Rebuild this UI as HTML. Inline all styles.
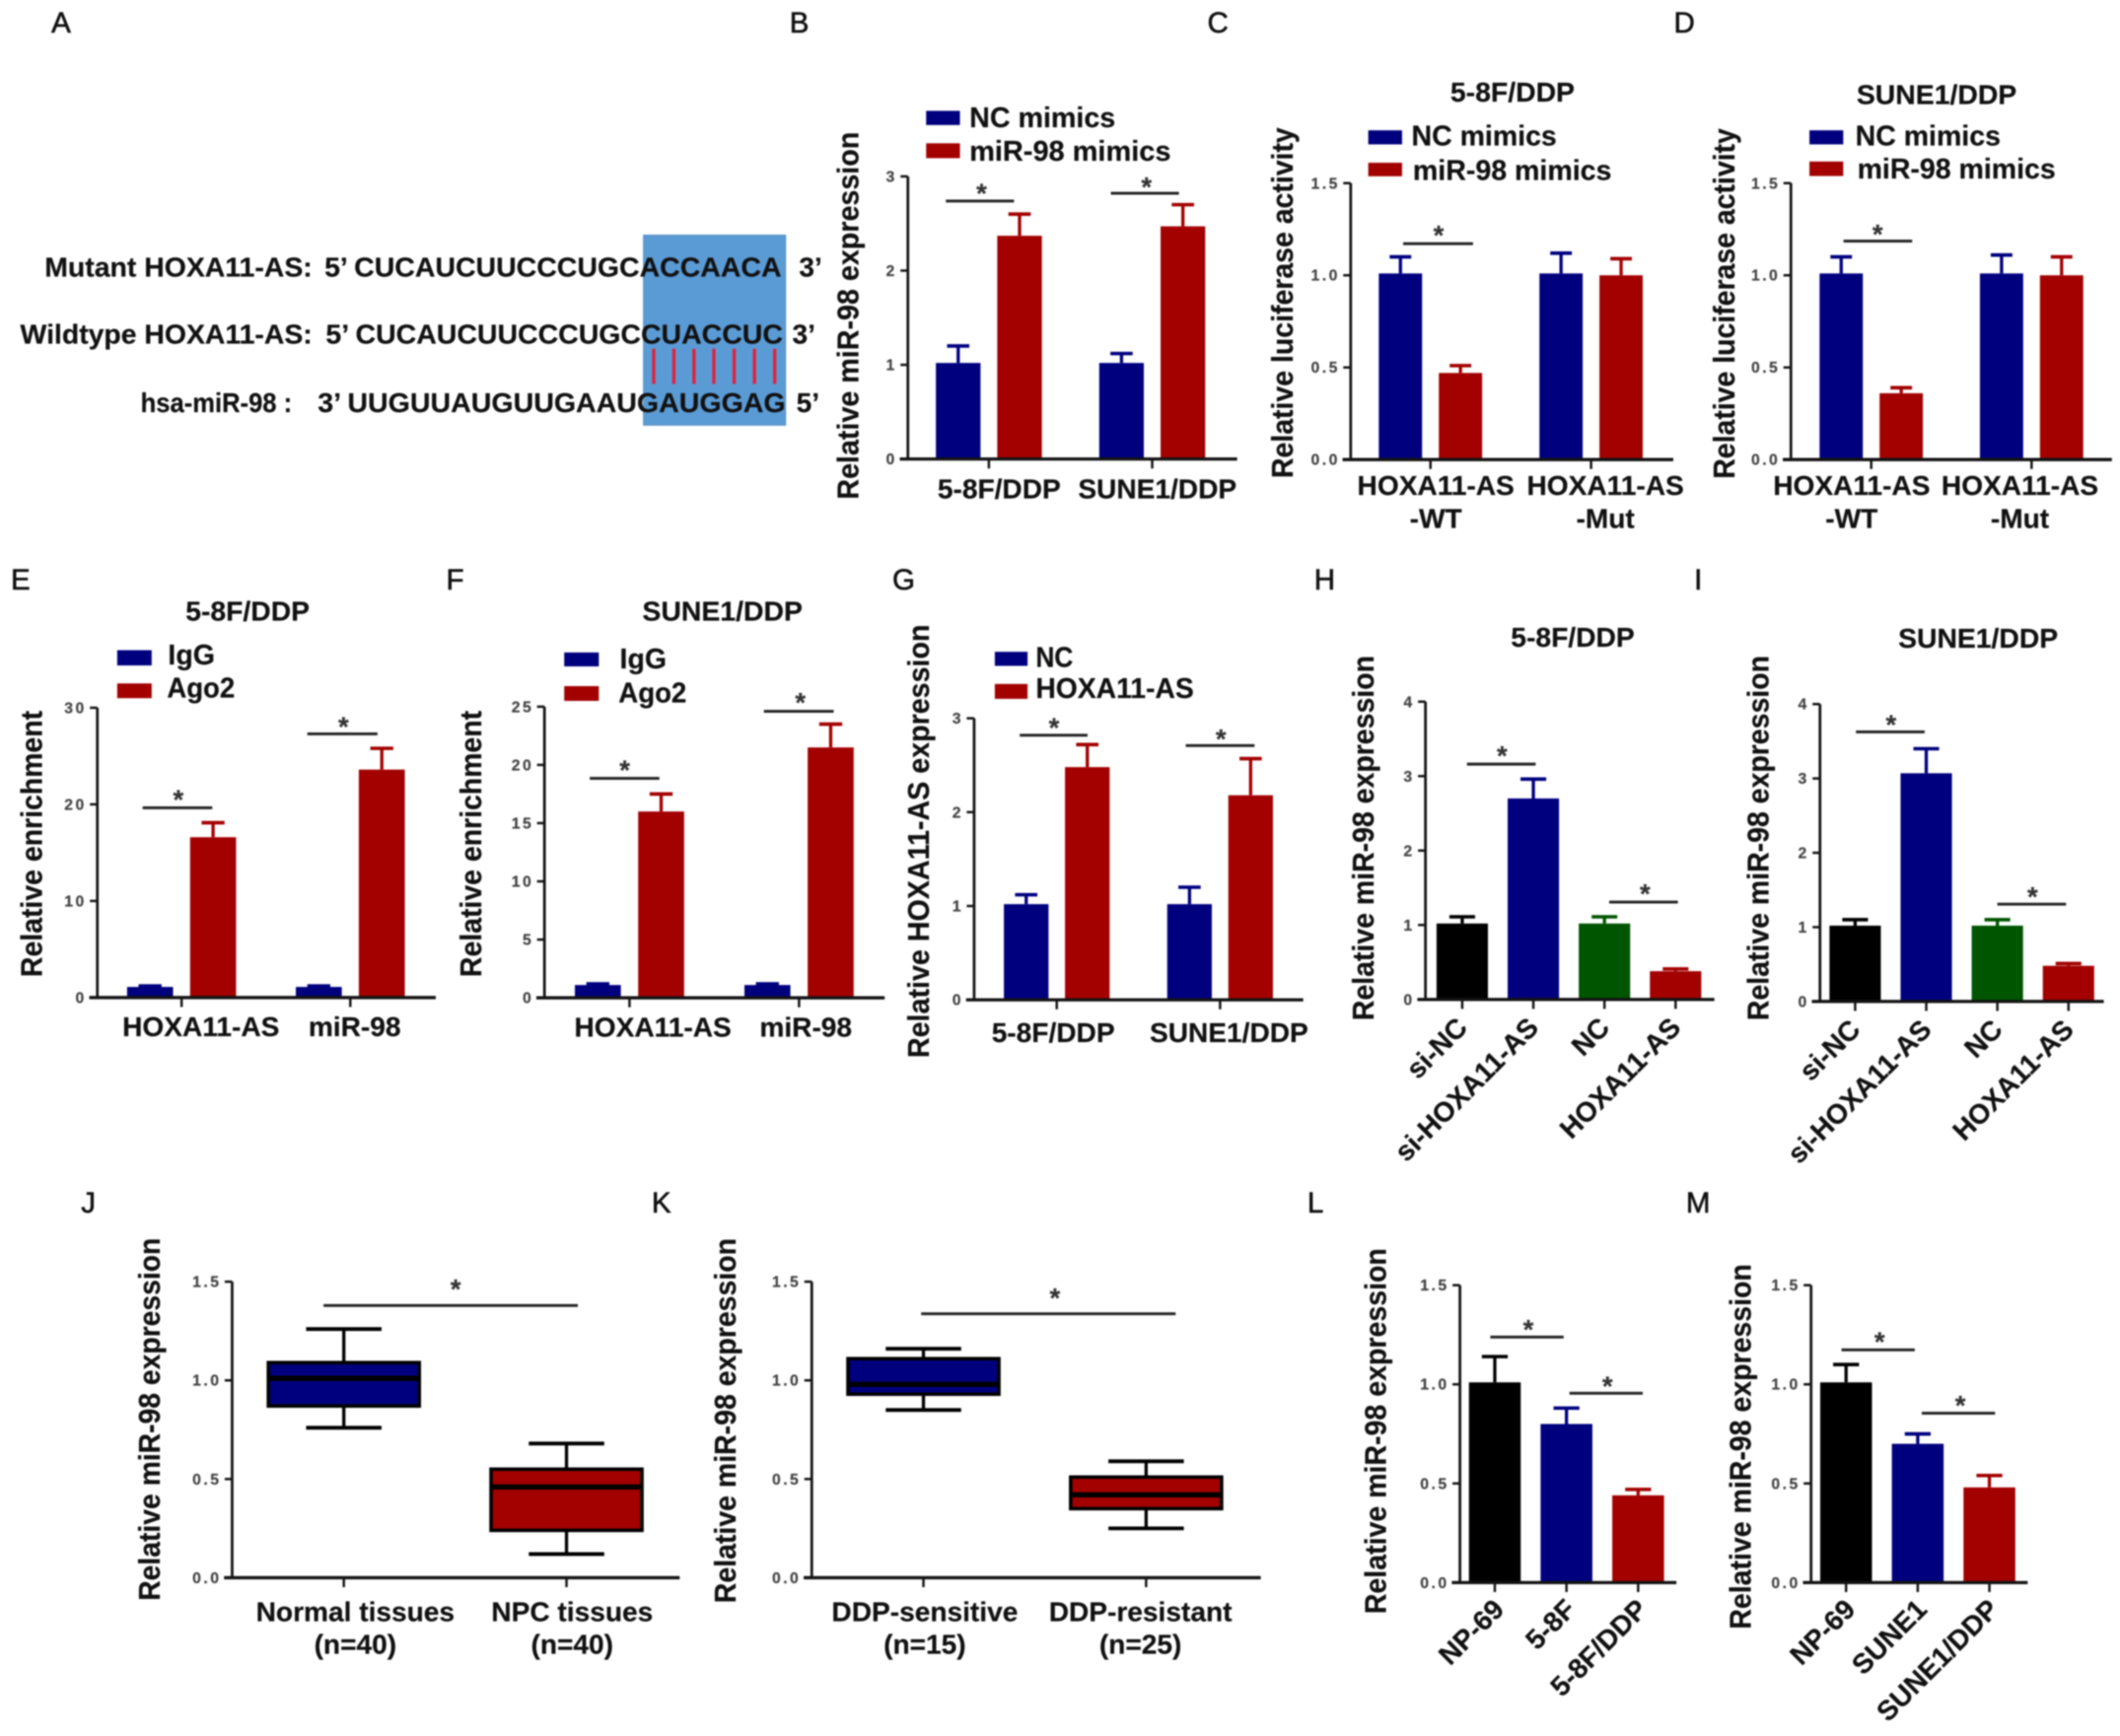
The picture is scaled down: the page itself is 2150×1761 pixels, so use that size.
<!DOCTYPE html>
<html lang="en">
<head>
<meta charset="utf-8">
<title>HOXA11-AS and miR-98 multi-panel figure</title>
<style>
html,body{margin:0;padding:0;background:#fff;}
svg{display:block;}
text{font-family:"Liberation Sans",Arial,sans-serif;font-weight:700;fill:#111;stroke:#111;stroke-width:.15;}
.letter{font-size:21.5px;font-weight:400;stroke-width:.45;}
.big{font-size:21px;}
.star{font-size:20px;fill:#333;stroke:#333;text-anchor:middle;}
.ttl{font-size:22px;text-anchor:middle;}
.sig{stroke:#222;stroke-width:2.1;}
</style>
</head>
<body>
<svg id="figure" xmlns="http://www.w3.org/2000/svg" width="2150" height="1761" viewBox="0 0 1568 1284.3" style="filter:blur(.8px)">
<rect x="0" y="0" width="1568" height="1284.3" fill="#fff"/>

<g>
<text class="letter" x="38" y="24">A</text>
<text class="letter" x="584" y="24">B</text>
<text class="letter" x="893" y="24">C</text>
<text class="letter" x="1238" y="24">D</text>
<text class="letter" x="8" y="436">E</text>
<text class="letter" x="330" y="436">F</text>
<text class="letter" x="660" y="436">G</text>
<text class="letter" x="972" y="436">H</text>
<text class="letter" x="1253" y="436">I</text>
<text class="letter" x="60" y="897">J</text>
<text class="letter" x="482" y="897">K</text>
<text class="letter" x="967" y="897">L</text>
<text class="letter" x="1247" y="897">M</text>
</g>

<g>
<rect x="476" y="174" width="105" height="140.5" fill="#5b9bd5" stroke="#5590c6" stroke-width=".8"/>
<text x="33" y="204.5" font-size="20.5" textLength="198" lengthAdjust="spacingAndGlyphs">Mutant HOXA11-AS:</text>
<text x="240" y="204.5" font-size="20.5" textLength="338" lengthAdjust="spacingAndGlyphs">5’ CUCAUCUUCCCUGCACCAACA</text>
<text x="591" y="204.5" font-size="20.5">3’</text>
<text x="15" y="254" font-size="20.5" textLength="216" lengthAdjust="spacingAndGlyphs">Wildtype HOXA11-AS:</text>
<text x="241" y="254" font-size="20.5" textLength="338" lengthAdjust="spacingAndGlyphs">5’ CUCAUCUUCCCUGCCUACCUC</text>
<text x="586" y="254" font-size="20.5">3’</text>
<text x="104" y="305" font-size="20.5" textLength="112" lengthAdjust="spacingAndGlyphs">hsa-miR-98 :</text>
<text x="235" y="305" font-size="20.5" textLength="346" lengthAdjust="spacingAndGlyphs">3’ UUGUUAUGUUGAAUGAUGGAG</text>
<text x="589" y="305" font-size="20.5">5’</text>
<g stroke="#e2203a" stroke-width="2.4">
<line x1="483.5" x2="483.5" y1="258" y2="284"/>
<line x1="498.4" x2="498.4" y1="258" y2="284"/>
<line x1="513.3" x2="513.3" y1="258" y2="284"/>
<line x1="528" x2="528" y1="258" y2="284"/>
<line x1="543" x2="543" y1="258" y2="284"/>
<line x1="558" x2="558" y1="258" y2="284"/>
<line x1="573" x2="573" y1="258" y2="284"/>
</g>
</g>

<g>
<text class="ttl" transform="translate(635,233.5) rotate(-90)" textLength="272" lengthAdjust="spacingAndGlyphs">Relative miR-98 expression</text>
<text class="ttl" transform="translate(956,224) rotate(-90)" textLength="259.5" lengthAdjust="spacingAndGlyphs">Relative luciferase activity</text>
<text class="ttl" transform="translate(1283,224.6) rotate(-90)" textLength="259.3" lengthAdjust="spacingAndGlyphs">Relative luciferase activity</text>
<text class="ttl" transform="translate(31,624.3) rotate(-90)" textLength="197" lengthAdjust="spacingAndGlyphs">Relative enrichment</text>
<text class="ttl" transform="translate(356,624.3) rotate(-90)" textLength="197" lengthAdjust="spacingAndGlyphs">Relative enrichment</text>
<text class="ttl" transform="translate(687,622.3) rotate(-90)" textLength="320.6" lengthAdjust="spacingAndGlyphs">Relative HOXA11-AS expression</text>
<text class="ttl" transform="translate(1016,620) rotate(-90)" textLength="270" lengthAdjust="spacingAndGlyphs">Relative miR-98 expression</text>
<text class="ttl" transform="translate(1308,620) rotate(-90)" textLength="270" lengthAdjust="spacingAndGlyphs">Relative miR-98 expression</text>
<text class="ttl" transform="translate(118,1050) rotate(-90)" textLength="268.5" lengthAdjust="spacingAndGlyphs">Relative miR-98 expression</text>
<text class="ttl" transform="translate(544,1051) rotate(-90)" textLength="270" lengthAdjust="spacingAndGlyphs">Relative miR-98 expression</text>
<text class="ttl" transform="translate(1025,1058.7) rotate(-90)" textLength="270.6" lengthAdjust="spacingAndGlyphs">Relative miR-98 expression</text>
<text class="ttl" transform="translate(1295,1070.2) rotate(-90)" textLength="270.2" lengthAdjust="spacingAndGlyphs">Relative miR-98 expression</text>
</g>

<g>
<text x="1072.7" y="75" font-size="20.5" textLength="92" lengthAdjust="spacingAndGlyphs">5-8F/DDP</text>
<text x="1373.2" y="77" font-size="20.5" textLength="118.4" lengthAdjust="spacingAndGlyphs">SUNE1/DDP</text>
<text x="137.3" y="459.2" font-size="20.5" textLength="91.7" lengthAdjust="spacingAndGlyphs">5-8F/DDP</text>
<text x="475.1" y="459.2" font-size="20.5" textLength="118.5" lengthAdjust="spacingAndGlyphs">SUNE1/DDP</text>
<text x="1117.5" y="478.4" font-size="20.5" textLength="91.5" lengthAdjust="spacingAndGlyphs">5-8F/DDP</text>
<text x="1404" y="479" font-size="20.5" textLength="118.2" lengthAdjust="spacingAndGlyphs">SUNE1/DDP</text>
</g>

<g>
<g>
<rect x="685" y="82" width="25" height="10.5" fill="#00007f"/>
<text x="717" y="94" class="big" textLength="108" lengthAdjust="spacingAndGlyphs">NC mimics</text>
<rect x="685" y="106" width="25" height="11" fill="#a30000"/>
<text x="717" y="119" class="big" textLength="149" lengthAdjust="spacingAndGlyphs">miR-98 mimics</text>
</g>
<g>
<rect x="1012" y="96.4" width="25" height="10.4" fill="#00007f"/>
<text x="1044" y="107.5" class="big" textLength="107.4" lengthAdjust="spacingAndGlyphs">NC mimics</text>
<rect x="1012" y="120.4" width="25" height="10" fill="#a30000"/>
<text x="1045" y="133" class="big" textLength="147" lengthAdjust="spacingAndGlyphs">miR-98 mimics</text>
</g>
<g>
<rect x="1338.3" y="96.4" width="25" height="10.4" fill="#00007f"/>
<text x="1372.3" y="107.5" class="big" textLength="107.4" lengthAdjust="spacingAndGlyphs">NC mimics</text>
<rect x="1338.3" y="119.5" width="25" height="10.7" fill="#a30000"/>
<text x="1373.7" y="132" class="big" textLength="146.7" lengthAdjust="spacingAndGlyphs">miR-98 mimics</text>
</g>
<g>
<rect x="86.7" y="481" width="25.5" height="11.3" fill="#00007f"/>
<text x="124.3" y="491.5" class="big" textLength="34.7" lengthAdjust="spacingAndGlyphs">IgG</text>
<rect x="86.7" y="505.6" width="25.5" height="10.9" fill="#a30000"/>
<text x="123.5" y="516" class="big" textLength="50.2" lengthAdjust="spacingAndGlyphs">Ago2</text>
</g>
<g>
<rect x="417.3" y="482.7" width="25.6" height="10.3" fill="#00007f"/>
<text x="458.4" y="494.3" class="big" textLength="34.6" lengthAdjust="spacingAndGlyphs">IgG</text>
<rect x="417.3" y="507.6" width="25.6" height="10.9" fill="#a30000"/>
<text x="457.5" y="519.7" class="big" textLength="50.3" lengthAdjust="spacingAndGlyphs">Ago2</text>
</g>
<g>
<rect x="735.8" y="482.2" width="24.2" height="10.4" fill="#00007f"/>
<text x="766" y="493.5" class="big" textLength="27.7" lengthAdjust="spacingAndGlyphs">NC</text>
<rect x="735.8" y="506" width="24.2" height="11" fill="#a30000"/>
<text x="766" y="516.5" class="big" textLength="117" lengthAdjust="spacingAndGlyphs">HOXA11-AS</text>
</g>
</g>

<g>
<line class="sig" x1="699.6" x2="750" y1="148.7" y2="148.7"/>
<text class="star" x="726" y="150">*</text>
<line class="sig" x1="821.6" x2="872" y1="143" y2="143"/>
<text class="star" x="848" y="145">*</text>
<line class="sig" x1="1037.8" x2="1089.5" y1="180.3" y2="180.3"/>
<text class="star" x="1064" y="181">*</text>
<line class="sig" x1="1363.5" x2="1414.3" y1="178.4" y2="178.4"/>
<text class="star" x="1388.7" y="180">*</text>
<line class="sig" x1="105.5" x2="157" y1="597.6" y2="597.6"/>
<text class="star" x="131.9" y="598.4">*</text>
<line class="sig" x1="227.3" x2="279.2" y1="542.9" y2="542.9"/>
<text class="star" x="254" y="544.5">*</text>
<line class="sig" x1="436.2" x2="487.7" y1="575.8" y2="575.8"/>
<text class="star" x="462.1" y="576.6">*</text>
<line class="sig" x1="565" x2="616.6" y1="526.2" y2="526.2"/>
<text class="star" x="592" y="526.6">*</text>
<line class="sig" x1="754.2" x2="804.4" y1="543.9" y2="543.9"/>
<text class="star" x="779.6" y="545">*</text>
<line class="sig" x1="877" x2="927.9" y1="551.6" y2="551.6"/>
<text class="star" x="903" y="553.4">*</text>
<line class="sig" x1="1085" x2="1135.8" y1="565.3" y2="565.3"/>
<text class="star" x="1111" y="565.9">*</text>
<line class="sig" x1="1190.2" x2="1241" y1="667.4" y2="667.4"/>
<text class="star" x="1216.7" y="668">*</text>
<line class="sig" x1="1372.7" x2="1423.5" y1="541.5" y2="541.5"/>
<text class="star" x="1398.7" y="543">*</text>
<line class="sig" x1="1477.3" x2="1528.1" y1="668.9" y2="668.9"/>
<text class="star" x="1503.3" y="670.4">*</text>
<line class="sig" x1="239.3" x2="427.4" y1="965.8" y2="965.8"/>
<text class="star" x="337" y="960.6">*</text>
<line class="sig" x1="681.3" x2="869.5" y1="971.9" y2="971.9"/>
<text class="star" x="780.2" y="967.1">*</text>
<line class="sig" x1="1102.3" x2="1156.5" y1="989.2" y2="989.2"/>
<text class="star" x="1130.4" y="990.5">*</text>
<line class="sig" x1="1160.8" x2="1215" y1="1030.7" y2="1030.7"/>
<text class="star" x="1188.9" y="1032.3">*</text>
<line class="sig" x1="1362" x2="1416.2" y1="998.6" y2="998.6"/>
<text class="star" x="1390.2" y="999.6">*</text>
<line class="sig" x1="1421.4" x2="1475.6" y1="1045.5" y2="1045.5"/>
<text class="star" x="1449.9" y="1046.6">*</text>
</g>

<g id="charts"></g>
</svg>

<script>
// Panel B
const panelB_categories = ['5-8F/DDP', 'SUNE1/DDP'];
const panelB_yTicks = ['0', '1', '2', '3'];
const panelB_nc = [1.02, 1.02];
const panelB_ncErr = [0.18, 0.10];
const panelB_mimics = [2.37, 2.47];
const panelB_mimicsErr = [0.23, 0.23];
// Panel C
const panelC_categories = [['HOXA11-AS', '-WT'], ['HOXA11-AS', '-Mut']];
const panelC_yTicks = ['0.0', '0.5', '1.0', '1.5'];
const panelC_nc = [1.01, 1.01];
const panelC_ncErr = [0.09, 0.11];
const panelC_mimics = [0.47, 1.00];
const panelC_mimicsErr = [0.04, 0.09];
// Panel D
const panelD_categories = [['HOXA11-AS', '-WT'], ['HOXA11-AS', '-Mut']];
const panelD_yTicks = ['0.0', '0.5', '1.0', '1.5'];
const panelD_nc = [1.01, 1.01];
const panelD_ncErr = [0.09, 0.10];
const panelD_mimics = [0.36, 1.00];
const panelD_mimicsErr = [0.03, 0.10];
// Panel E
const panelE_categories = ['HOXA11-AS', 'miR-98'];
const panelE_yTicks = ['0', '10', '20', '30'];
const panelE_igg = [1.1, 1.1];
const panelE_iggErr = [0.1, 0.1];
const panelE_ago2 = [16.6, 23.6];
const panelE_ago2Err = [1.5, 2.2];
// Panel F
const panelF_categories = ['HOXA11-AS', 'miR-98'];
const panelF_yTicks = ['0', '5', '10', '15', '20', '25'];
const panelF_igg = [1.1, 1.1];
const panelF_iggErr = [0.1, 0.1];
const panelF_ago2 = [16.0, 21.5];
const panelF_ago2Err = [1.5, 2.0];
// Panel G
const panelG_categories = ['5-8F/DDP', 'SUNE1/DDP'];
const panelG_yTicks = ['0', '1', '2', '3'];
const panelG_nc = [1.02, 1.02];
const panelG_ncErr = [0.10, 0.18];
const panelG_hoxa = [2.48, 2.18];
const panelG_hoxaErr = [0.24, 0.39];
// Panel H
const panelH_categories = ['si-NC', 'si-HOXA11-AS', 'NC', 'HOXA11-AS'];
const panelH_yTicks = ['0', '1', '2', '3', '4'];
const panelH_values = [1.02, 2.70, 1.02, 0.38];
const panelH_errors = [0.09, 0.26, 0.09, 0.03];
// Panel I
const panelI_categories = ['si-NC', 'si-HOXA11-AS', 'NC', 'HOXA11-AS'];
const panelI_yTicks = ['0', '1', '2', '3', '4'];
const panelI_values = [1.02, 3.07, 1.02, 0.48];
const panelI_errors = [0.08, 0.33, 0.08, 0.03];
// Panel J
const panelJ_categories = [['Normal tissues', '(n=40)'], ['NPC tissues', '(n=40)']];
const panelJ_yTicks = ['0.0', '0.5', '1.0', '1.5'];
const panelJ_min = [0.76, 0.12];
const panelJ_q1 = [0.87, 0.24];
const panelJ_median = [1.01, 0.46];
const panelJ_q3 = [1.09, 0.55];
const panelJ_max = [1.26, 0.68];
// Panel K
const panelK_categories = [['DDP-sensitive', '(n=15)'], ['DDP-resistant', '(n=25)']];
const panelK_yTicks = ['0.0', '0.5', '1.0', '1.5'];
const panelK_min = [0.85, 0.25];
const panelK_q1 = [0.93, 0.35];
const panelK_median = [0.98, 0.42];
const panelK_q3 = [1.11, 0.51];
const panelK_max = [1.16, 0.59];
// Panel L
const panelL_categories = ['NP-69', '5-8F', '5-8F/DDP'];
const panelL_yTicks = ['0.0', '0.5', '1.0', '1.5'];
const panelL_values = [1.01, 0.80, 0.44];
const panelL_errors = [0.13, 0.08, 0.03];
// Panel M
const panelM_categories = ['NP-69', 'SUNE1', 'SUNE1/DDP'];
const panelM_yTicks = ['0.0', '0.5', '1.0', '1.5'];
const panelM_values = [1.01, 0.70, 0.48];
const panelM_errors = [0.09, 0.05, 0.06];

const BLUE = '#00007f';
const RED = '#a30000';
const GREEN = '#005500';
const BLACK = '#000000';
const INK = '#141414';
const NS = 'http://www.w3.org/2000/svg';
const root = document.getElementById('charts');

function mk(parent, tag, attrs, name) {
  const el = document.createElementNS(NS, tag);
  for (const k in attrs) el.setAttribute(k, attrs[k]);
  
  
  parent.appendChild(el);
  return el;
}

function yScale(frame, ticks) {
  const maxV = parseFloat(ticks[ticks.length - 1]);
  return function (v) {
    return frame.y0 - (v / maxV) * (frame.y0 - frame.yTop);
  };
}

function drawAxes(g, frame, ticks, tickXs) {
  const y = yScale(frame, ticks);
  mk(g, 'line', {x1: frame.x0, x2: frame.x0, y1: frame.y0, y2: frame.yTop, stroke: INK, 'stroke-width': 2}, 'y-axis-line');
  mk(g, 'line', {x1: frame.x0 - 6, x2: frame.xEnd, y1: frame.y0, y2: frame.y0, stroke: INK, 'stroke-width': 2.4}, 'x-axis-line');
  ticks.forEach(function (t) {
    const ty = y(parseFloat(t));
    mk(g, 'line', {x1: frame.x0 - 5.5, x2: frame.x0, y1: ty, y2: ty, stroke: INK, 'stroke-width': 1.8}, 'y-tick');
    const lab = mk(g, 'text', {x: frame.x0 - 8, y: ty + 4, 'font-size': 11.5, 'text-anchor': 'end', style: 'fill:#444;stroke:#444;letter-spacing:1.8px'}, 'y-tick-label');
    lab.textContent = t;
  });
  tickXs.forEach(function (tx) {
    mk(g, 'line', {x1: tx, x2: tx, y1: frame.y0, y2: frame.y0 + 7, stroke: INK, 'stroke-width': 1.8}, 'x-tick');
  });
}

function drawHorizontalLabels(g, frame, cats, first, step) {
  cats.forEach(function (c, i) {
    const lines = Array.isArray(c) ? c : [c];
    lines.forEach(function (ln, j) {
      const lab = mk(g, 'text', {
        x: first + i * step,
        y: frame.y0 + frame.labelDrop + j * frame.labelLead,
        'font-size': 20.5,
        'text-anchor': 'middle'
      }, 'x-tick-label');
      lab.textContent = ln;
    });
  });
}

function drawSlantedLabels(g, frame, cats, tickXs) {
  cats.forEach(function (c, i) {
    const ax = tickXs[i] + frame.slantDx;
    const ay = frame.y0 + frame.slantDy;
    const lab = mk(g, 'text', {
      x: ax,
      y: ay,
      'font-size': 20.5,
      'text-anchor': 'end',
      transform: 'rotate(-45 ' + ax + ' ' + ay + ')'
    }, 'x-tick-label');
    lab.textContent = c;
  });
}

function drawBar(g, cx, w, top, errTop, base, color) {
  const cap = w * 0.5;
  mk(g, 'line', {x1: cx, x2: cx, y1: top, y2: errTop, stroke: color, 'stroke-width': 2.4}, 'error-bar');
  mk(g, 'line', {x1: cx - cap / 2, x2: cx + cap / 2, y1: errTop, y2: errTop, stroke: color, 'stroke-width': 2.6}, 'error-bar-cap');
  mk(g, 'rect', {x: cx - w / 2, y: top, width: w, height: base - top, fill: color}, 'bar');
}

function groupedChart(name, frame, layout, cats, ticks, a, aErr, b, bErr) {
  const g = mk(root, 'g', {}, name);
  const y = yScale(frame, ticks);
  const centers = cats.map(function (_, i) { return layout.first + i * layout.step; });
  centers.forEach(function (c, i) {
    drawBar(g, c - layout.offset, layout.width, y(a[i]), y(a[i] + aErr[i]), frame.y0, BLUE);
    drawBar(g, c + layout.offset, layout.width, y(b[i]), y(b[i] + bErr[i]), frame.y0, RED);
  });
  drawAxes(g, frame, ticks, centers);
  drawHorizontalLabels(g, frame, cats, layout.labelFirst, layout.labelStep);
}

function singleChart(name, frame, layout, cats, ticks, vals, errs, palette) {
  const g = mk(root, 'g', {}, name);
  const y = yScale(frame, ticks);
  const centers = cats.map(function (_, i) { return layout.first + i * layout.step; });
  centers.forEach(function (c, i) {
    drawBar(g, c, layout.width, y(vals[i]), y(vals[i] + errs[i]), frame.y0, palette[i]);
  });
  drawAxes(g, frame, ticks, centers);
  drawSlantedLabels(g, frame, cats, centers);
}

function boxChart(name, frame, layout, cats, ticks, mins, q1, med, q3, maxs, palette) {
  const g = mk(root, 'g', {}, name);
  const y = yScale(frame, ticks);
  const centers = cats.map(function (_, i) { return layout.first + i * layout.step; });
  centers.forEach(function (c, i) {
    const w = layout.width;
    mk(g, 'line', {x1: c, x2: c, y1: y(maxs[i]), y2: y(mins[i]), stroke: BLACK, 'stroke-width': 2.4}, 'box-whisker');
    mk(g, 'line', {x1: c - w / 4, x2: c + w / 4, y1: y(maxs[i]), y2: y(maxs[i]), stroke: BLACK, 'stroke-width': 2.8}, 'box-whisker-cap-top');
    mk(g, 'line', {x1: c - w / 4, x2: c + w / 4, y1: y(mins[i]), y2: y(mins[i]), stroke: BLACK, 'stroke-width': 2.8}, 'box-whisker-cap-bottom');
    mk(g, 'rect', {x: c - w / 2, y: y(q3[i]), width: w, height: y(q1[i]) - y(q3[i]), fill: palette[i], stroke: BLACK, 'stroke-width': 2.6}, 'box');
    mk(g, 'line', {x1: c - w / 2, x2: c + w / 2, y1: y(med[i]), y2: y(med[i]), stroke: BLACK, 'stroke-width': 3.8}, 'box-median');
  });
  drawAxes(g, frame, ticks, centers);
  drawHorizontalLabels(g, frame, cats, layout.labelFirst, layout.labelStep);
}

groupedChart('chart-b', {x0: 671.5, y0: 339.6, yTop: 130.5, xEnd: 915, labelDrop: 29, labelLead: 0},
  {first: 731.4, step: 120.8, offset: 22.7, width: 33, labelFirst: 739, labelStep: 117},
  panelB_categories, panelB_yTicks, panelB_nc, panelB_ncErr, panelB_mimics, panelB_mimicsErr);

groupedChart('chart-c', {x0: 999, y0: 340, yTop: 135.5, xEnd: 1237.6, labelDrop: 26, labelLead: 24.5},
  {first: 1058, step: 118.8, offset: 22.2, width: 32, labelFirst: 1062, labelStep: 125.4},
  panelC_categories, panelC_yTicks, panelC_nc, panelC_ncErr, panelC_mimics, panelC_mimicsErr);

groupedChart('chart-d', {x0: 1324.6, y0: 340, yTop: 135.5, xEnd: 1562, labelDrop: 26, labelLead: 24.5},
  {first: 1384, step: 118.6, offset: 22.2, width: 32, labelFirst: 1369.5, labelStep: 124.5},
  panelD_categories, panelD_yTicks, panelD_nc, panelD_ncErr, panelD_mimics, panelD_mimicsErr);

groupedChart('chart-e', {x0: 72, y0: 738, yTop: 523.6, xEnd: 322.3, labelDrop: 28.5, labelLead: 0},
  {first: 134.3, step: 124.8, offset: 23.3, width: 34, labelFirst: 148.6, labelStep: 113.7},
  panelE_categories, panelE_yTicks, panelE_igg, panelE_iggErr, panelE_ago2, panelE_ago2Err);

groupedChart('chart-f', {x0: 402.7, y0: 738.2, yTop: 522.8, xEnd: 654.3, labelDrop: 28.5, labelLead: 0},
  {first: 465.6, step: 125.4, offset: 23.4, width: 34, labelFirst: 482.9, labelStep: 113.1},
  panelF_categories, panelF_yTicks, panelF_igg, panelF_iggErr, panelF_ago2, panelF_ago2Err);

groupedChart('chart-g', {x0: 720.5, y0: 739.7, yTop: 531.4, xEnd: 963.9, labelDrop: 31, labelLead: 0},
  {first: 781.6, step: 120.8, offset: 22.6, width: 33, labelFirst: 779, labelStep: 130},
  panelG_categories, panelG_yTicks, panelG_nc, panelG_ncErr, panelG_hoxa, panelG_hoxaErr);

singleChart('chart-h', {x0: 1054.3, y0: 739.4, yTop: 519.1, xEnd: 1268, slantDx: 5, slantDy: 22},
  {first: 1081.5, step: 52.6, width: 38},
  panelH_categories, panelH_yTicks, panelH_values, panelH_errors, [BLACK, BLUE, GREEN, RED]);

singleChart('chart-i', {x0: 1346.1, y0: 740.9, yTop: 520.9, xEnd: 1556, slantDx: 5, slantDy: 22},
  {first: 1372.1, step: 52.6, width: 38},
  panelI_categories, panelI_yTicks, panelI_values, panelI_errors, [BLACK, BLUE, GREEN, RED]);

boxChart('chart-j', {x0: 171.7, y0: 1167.2, yTop: 948.2, xEnd: 502.7, labelDrop: 32, labelLead: 24.2},
  {first: 254.3, step: 164.7, width: 111.6, labelFirst: 262.8, labelStep: 160.4},
  panelJ_categories, panelJ_yTicks, panelJ_min, panelJ_q1, panelJ_median, panelJ_q3, panelJ_max, [BLUE, RED]);

boxChart('chart-k', {x0: 600.4, y0: 1167.2, yTop: 948.2, xEnd: 932.5, labelDrop: 32, labelLead: 24.2},
  {first: 683, step: 164.7, width: 111.6, labelFirst: 684, labelStep: 159.5},
  panelK_categories, panelK_yTicks, panelK_min, panelK_q1, panelK_median, panelK_q3, panelK_max, [BLUE, RED]);

singleChart('chart-l', {x0: 1079.8, y0: 1170.8, yTop: 950.8, xEnd: 1239.9, slantDx: 8, slantDy: 21},
  {first: 1105.6, step: 53, width: 38.3},
  panelL_categories, panelL_yTicks, panelL_values, panelL_errors, [BLACK, BLUE, RED]);

singleChart('chart-m', {x0: 1339.5, y0: 1170.8, yTop: 950.8, xEnd: 1499.7, slantDx: 8, slantDy: 21},
  {first: 1365.4, step: 53, width: 38.3},
  panelM_categories, panelM_yTicks, panelM_values, panelM_errors, [BLACK, BLUE, RED]);
</script>
</body>
</html>
